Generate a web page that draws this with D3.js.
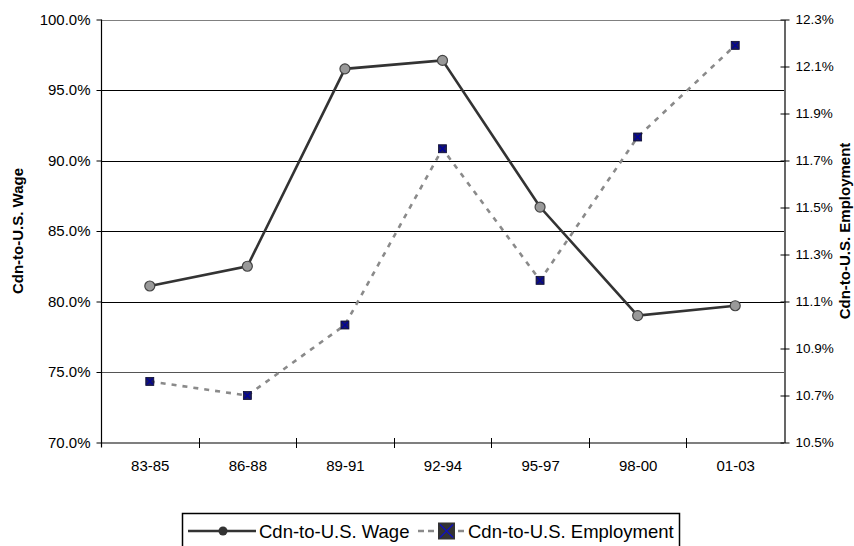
<!DOCTYPE html>
<html>
<head>
<meta charset="utf-8">
<script src="https://cdn.jsdelivr.net/npm/d3@7"></script>
<style>
  html, body { margin: 0; padding: 0; background: #fff; }
  svg { display: block; font-family: "Liberation Sans", Arial, sans-serif; }
</style>
</head>
<body>
<svg id="chart" width="854" height="546"></svg>
<script>
// Periods and the two ratio series (Canada relative to U.S.)
const periods = ["83-85", "86-88", "89-91", "92-94", "95-97", "98-00", "01-03"];
const wageRatio = [81.1, 82.5, 96.5, 97.1, 86.7, 79.0, 79.7];        // % (left axis)
const employmentRatio = [10.76, 10.70, 11.00, 11.75, 11.19, 11.80, 12.19]; // % (right axis)
const leftTicks = [70, 75, 80, 85, 90, 95, 100];
const rightTicks = [10.5, 10.7, 10.9, 11.1, 11.3, 11.5, 11.7, 11.9, 12.1, 12.3];

const svg = d3.select("#chart");
const plot = { left: 101, right: 784, top: 19.5, bottom: 442.5 };

const xBand = d3.scaleBand().domain(periods).range([plot.left, plot.right]).padding(0);
const xPoint = d3.scalePoint().domain(periods).range([plot.left, plot.right]).padding(0.5);
const yL = d3.scaleLinear().domain([70, 100]).range([plot.bottom, plot.top]);
const yR = d3.scaleLinear().domain([10.5, 12.3]).range([plot.bottom, plot.top]);

// Horizontal gridlines
svg.append("g").selectAll("line")
  .data(leftTicks.filter(v => v > 70))
  .join("line")
  .attr("x1", plot.left).attr("x2", plot.right)
  .attr("y1", d => Math.round(yL(d)) + 0.5).attr("y2", d => Math.round(yL(d)) + 0.5)
  .attr("stroke", d => (d === 100 ? "#808080" : (d === 75 ? "#555" : "#000")))
  .attr("stroke-width", 1);

// Left axis
const gL = svg.append("g")
  .attr("transform", `translate(${plot.left + 0.5},0)`)
  .call(d3.axisLeft(yL).tickValues(leftTicks).tickFormat(d => d.toFixed(1) + "%")
    .tickSizeInner(5).tickSizeOuter(0).tickPadding(6));
gL.select(".domain").attr("stroke", "#000").attr("stroke-width", 1.2)
  .attr("d", `M0,${plot.top}V${plot.bottom + 5}`);
gL.selectAll(".tick text").attr("font-size", 15).attr("fill", "#000")
  .attr("font-family", "Liberation Sans, Arial, sans-serif");
gL.selectAll(".tick line").attr("stroke", "#000");

// Right axis
const gR = svg.append("g")
  .attr("transform", `translate(${plot.right + 0.5},0)`)
  .call(d3.axisRight(yR).tickValues(rightTicks).tickFormat(d => d.toFixed(1) + "%")
    .tickSizeInner(5).tickSizeOuter(0).tickPadding(6));
gR.select(".domain").attr("stroke", "#000").attr("stroke-width", 1.2);
gR.selectAll(".tick line").attr("x1", -4).attr("x2", 5).attr("stroke", "#000");
gR.selectAll(".tick text").attr("font-size", 13.5).attr("fill", "#000")
  .attr("font-family", "Liberation Sans, Arial, sans-serif");

// Bottom axis: labels at category centres, tick marks at category boundaries
const gX = svg.append("g")
  .attr("transform", `translate(0,${plot.bottom + 0.5})`)
  .call(d3.axisBottom(xPoint).tickSize(0).tickPadding(17));
gX.select(".domain").attr("stroke", "#000").attr("stroke-width", 1.2)
  .attr("d", `M${plot.left},0H${plot.right}`);
gX.selectAll(".tick text").attr("font-size", 15).attr("fill", "#000")
  .attr("font-family", "Liberation Sans, Arial, sans-serif");
const boundaries = periods.map(p => xBand(p)).concat([xBand(periods[periods.length - 1]) + xBand.bandwidth()]);
gX.append("g").selectAll("line")
  .data(boundaries.slice(1, -1))
  .join("line")
  .attr("x1", d => Math.round(d) + 0.5).attr("x2", d => Math.round(d) + 0.5)
  .attr("y1", -5).attr("y2", 5)
  .attr("stroke", "#000");

// Axis titles
svg.append("text")
  .attr("transform", `translate(23,${(plot.top + plot.bottom) / 2}) rotate(-90)`)
  .attr("text-anchor", "middle")
  .attr("font-size", 15).attr("font-weight", "bold")
  .text("Cdn-to-U.S. Wage");
svg.append("text")
  .attr("transform", `translate(850,${(plot.top + plot.bottom) / 2}) rotate(-90)`)
  .attr("text-anchor", "middle")
  .attr("font-size", 15).attr("font-weight", "bold")
  .text("Cdn-to-U.S. Employment");

// Employment series (dashed, right axis)
const empLine = d3.line().x((d, i) => xPoint(periods[i])).y(d => yR(d));
svg.append("path")
  .datum(employmentRatio)
  .attr("d", empLine)
  .attr("fill", "none").attr("stroke", "#8a8a8a")
  .attr("stroke-width", 2.6).attr("stroke-dasharray", "5,6");

// Wage series (solid, left axis)
const wageLine = d3.line().x((d, i) => xPoint(periods[i])).y(d => yL(d));
svg.append("path")
  .datum(wageRatio)
  .attr("d", wageLine)
  .attr("fill", "none").attr("stroke", "#333")
  .attr("stroke-width", 2.6);

// Square-with-cross marker
function crossSquare(g, cx, cy, s) {
  g.append("rect").attr("x", cx - s / 2).attr("y", cy - s / 2)
    .attr("width", s).attr("height", s)
    .attr("fill", "#1c1c5a").attr("stroke", "#0a0a30").attr("stroke-width", 0.8);
  const h = s / 2 - 1;
  g.append("path")
    .attr("d", `M${cx - h},${cy - h}L${cx + h},${cy + h}M${cx - h},${cy + h}L${cx + h},${cy - h}`)
    .attr("stroke", "#0000a0").attr("stroke-width", 1.2);
}

const empMarks = svg.append("g");
employmentRatio.forEach((v, i) => crossSquare(empMarks, xPoint(periods[i]), yR(v), 8));

svg.append("g").selectAll("circle")
  .data(wageRatio)
  .join("circle")
  .attr("cx", (d, i) => xPoint(periods[i])).attr("cy", d => yL(d))
  .attr("r", 5)
  .attr("fill", "#999").attr("stroke", "#444").attr("stroke-width", 1.2);

// Legend
const lg = svg.append("g");
lg.append("rect").attr("x", 182.5).attr("y", 513.5).attr("width", 497).attr("height", 40)
  .attr("fill", "#fff").attr("stroke", "#000").attr("stroke-width", 1.5);
lg.append("line").attr("x1", 188).attr("x2", 256).attr("y1", 531).attr("y2", 531)
  .attr("stroke", "#333").attr("stroke-width", 2.6);
lg.append("circle").attr("cx", 223).attr("cy", 531).attr("r", 4.5).attr("fill", "#333");
lg.append("text").attr("x", 259).attr("y", 537.5).attr("font-size", 18.5).text("Cdn-to-U.S. Wage");
lg.append("line").attr("x1", 418).attr("x2", 464).attr("y1", 531).attr("y2", 531)
  .attr("stroke", "#8a8a8a").attr("stroke-width", 2.6).attr("stroke-dasharray", "6,4");
lg.append("rect").attr("x", 438).attr("y", 522.5).attr("width", 17).attr("height", 17).attr("fill", "#333");
lg.append("path").attr("d", "M440,524.5L453,537.5M440,537.5L453,524.5")
  .attr("stroke", "#1010c0").attr("stroke-width", 1.4);
lg.append("text").attr("x", 468).attr("y", 537.5).attr("font-size", 18.5).text("Cdn-to-U.S. Employment");
</script>
</body>
</html>
